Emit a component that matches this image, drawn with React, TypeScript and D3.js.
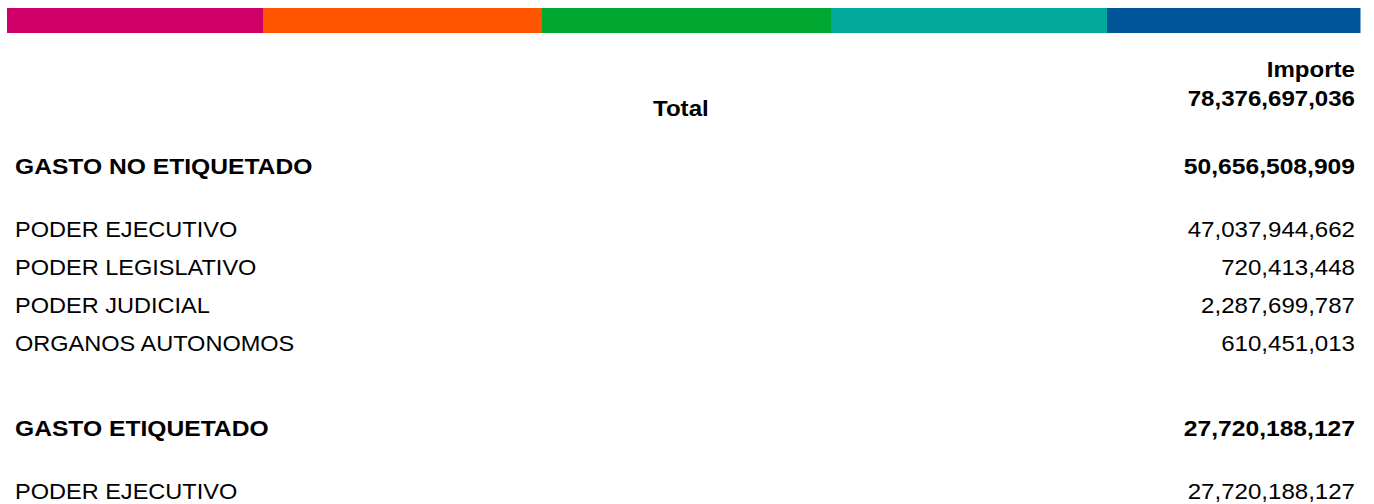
import { useRef, useEffect } from 'react'
import * as d3 from 'd3'

// top stripe colours, left to right
const stripeColors = ['#CE0067', '#FF5500', '#00A832', '#00A99A', '#00559A']

const columnTitle = 'Importe'
const totalLabel = 'Total'
const totalValue = 78376697036

const sectionLabels = ['GASTO NO ETIQUETADO', 'GASTO ETIQUETADO']
const sectionValues = [50656508909, 27720188127]

const itemLabels = ['PODER EJECUTIVO', 'PODER LEGISLATIVO', 'PODER JUDICIAL', 'ORGANOS AUTONOMOS', 'PODER EJECUTIVO']
const itemValues = [47037944662, 720413448, 2287699787, 610451013, 27720188127]
const itemSection = [0, 0, 0, 0, 1]

const width = 1374
const height = 504
const font = "'Liberation Sans', Arial, Helvetica, sans-serif"
const stripeStops = [0, 0.1892, 0.3954, 0.609, 0.813, 1]

// glyphs in the source are a bit wider than plain Arial
const stretchLabel = 1.07
const stretchNumber = 1.095
const stretchBold = 1.12

function placeText(sel, x, y, sx) {
  return sel.attr('transform', `translate(${x},${y}) scale(${sx},1)`)
}

function drawTable(target) {
  const svg = d3.select(target)
  svg.selectAll('*').remove()

  const fmt = d3.format(',')

  // stripe
  const xStripe = d3.scaleLinear().domain([0, 1]).range([7, 1360])
  svg
    .append('g')
    .selectAll('rect')
    .data(stripeColors)
    .enter()
    .append('rect')
    .attr('x', (d, i) => xStripe(stripeStops[i]))
    .attr('width', (d, i) => xStripe(stripeStops[i + 1]) - xStripe(stripeStops[i]) + 0.5)
    .attr('y', 8)
    .attr('height', 25)
    .attr('fill', (d) => d)

  const labelX = 15
  const valueX = 1355

  // header
  const head = svg.append('g').attr('font-family', font).attr('font-weight', 'bold').attr('fill', '#000').attr('font-size', 21.5)
  placeText(head.append('text').attr('text-anchor', 'end').text(columnTitle), valueX, 77, stretchBold)
  placeText(head.append('text').attr('text-anchor', 'end').text(fmt(totalValue)), valueX, 106, stretchBold)
  placeText(head.append('text').text(totalLabel), 653, 116, stretchBold)

  // build rows: section then its items
  const rows = []
  sectionLabels.forEach((s, si) => {
    rows.push({ label: s, value: sectionValues[si], bold: true })
    itemLabels.forEach((l, i) => {
      if (itemSection[i] === si) rows.push({ label: l, value: itemValues[i], bold: false })
    })
  })

  let y = 174
  rows.forEach((r, i) => {
    if (i > 0) {
      const prev = rows[i - 1]
      if (prev.bold) y += 62.5
      else if (r.bold) y += 85.5
      else y += 38
    }
    r.y = y
  })

  const body = svg.append('g').attr('font-family', font).attr('fill', '#000').attr('font-size', 22)

  const rowG = body
    .selectAll('.row')
    .data(rows)
    .enter()
    .append('g')
    .attr('class', 'row')
    .attr('font-weight', (d) => (d.bold ? 'bold' : 'normal'))

  rowG
    .append('text')
    .attr('transform', (d) => `translate(${labelX},${d.y}) scale(${d.bold ? stretchBold : stretchLabel},1)`)
    .text((d) => d.label)

  rowG
    .append('text')
    .attr('transform', (d) => `translate(${valueX},${d.y}) scale(${d.bold ? stretchBold : stretchNumber},1)`)
    .attr('text-anchor', 'end')
    .text((d) => fmt(d.value))
}

export default function App() {
  const ref = useRef(null)

  useEffect(() => {
    drawTable(ref.current)
  }, [])

  return (
    <div>
      <svg
        ref={ref}
        width={width}
        height={height}
        style={{ position: 'absolute', left: 0, top: 0, background: '#fff' }}
      />
    </div>
  )
}
